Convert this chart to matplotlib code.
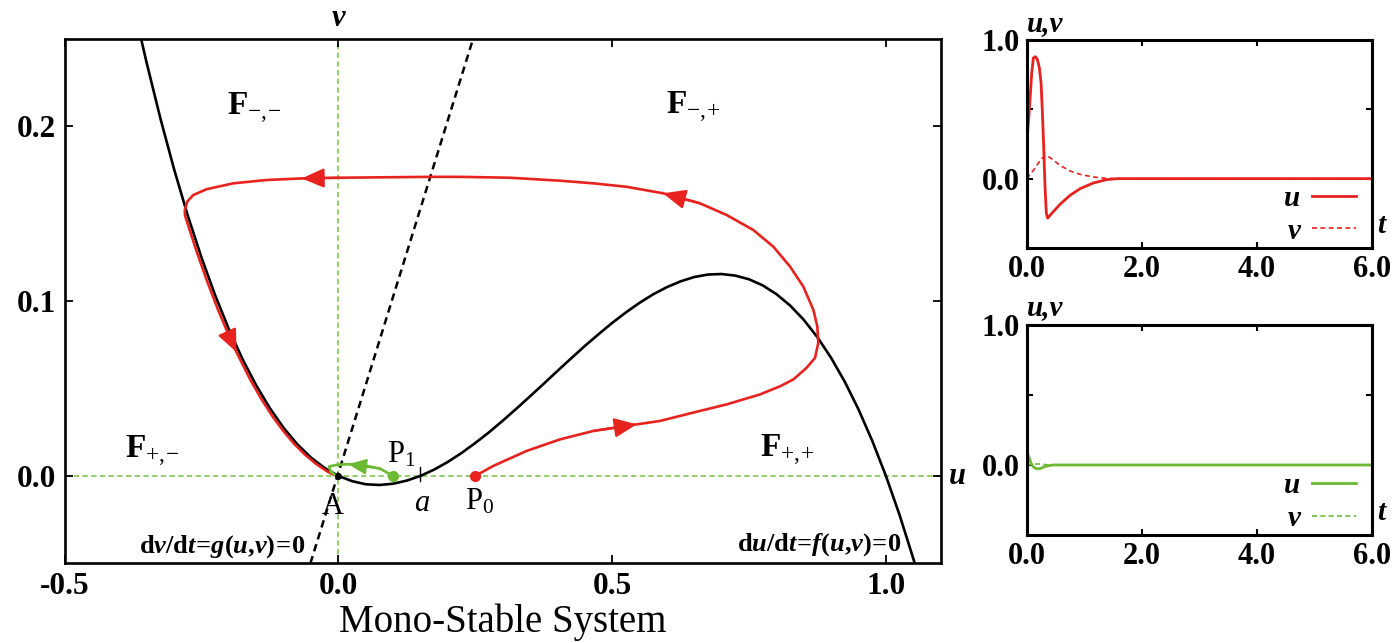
import matplotlib
matplotlib.use("Agg")
import matplotlib.pyplot as plt
from matplotlib.ticker import FormatStrFormatter

# parameter a (threshold) of the cubic
a_param = 0.15

# u-nullcline du/dt = f(u,v) = 0 (black cubic)
null_u = [-0.365, -0.35, -0.325, -0.30, -0.275, -0.25, -0.225, -0.20, -0.175, -0.15,
          -0.125, -0.10, -0.075, -0.05, -0.025, 0.0, 0.025, 0.05, 0.075, 0.10,
          0.125, 0.15, 0.175, 0.20, 0.225, 0.25, 0.275, 0.30, 0.325, 0.35,
          0.375, 0.40, 0.425, 0.45, 0.475, 0.50, 0.525, 0.55, 0.575, 0.60,
          0.625, 0.65, 0.675, 0.70, 0.725, 0.75, 0.775, 0.80, 0.825, 0.85,
          0.875, 0.90, 0.925, 0.95, 0.975, 1.00, 1.025, 1.05, 1.055]
null_v = [0.2566, 0.2363, 0.2046, 0.1755, 0.1490, 0.1250, 0.1034, 0.0840, 0.0668, 0.0518,
          0.0387, 0.0275, 0.0181, 0.0105, 0.0045, 0.0, -0.0030, -0.0048, -0.0052, -0.0045,
          -0.0027, 0.0, 0.0036, 0.0080, 0.0131, 0.0188, 0.0249, 0.0315, 0.0384, 0.0455,
          0.0527, 0.0600, 0.0672, 0.0743, 0.0810, 0.0875, 0.0935, 0.0990, 0.1039, 0.1080,
          0.1113, 0.1138, 0.1152, 0.1155, 0.1146, 0.1125, 0.1090, 0.1040, 0.0975, 0.0893,
          0.0793, 0.0675, 0.0538, 0.0380, 0.0201, 0.0, -0.0224, -0.0473, -0.0525]

# v-nullcline dv/dt = g(u,v) = 0 (dashed straight line)
gnull_u = [-0.051, 0.246]
gnull_v = [-0.05, 0.25]

# red trajectory starting at P0
red_u = [0.25, 0.283, 0.344, 0.405, 0.4655, 0.545, 0.587, 0.648, 0.709, 0.770,
         0.807, 0.831, 0.855, 0.8705, 0.8765, 0.8747, 0.8674, 0.849, 0.8248, 0.7943,
         0.7578, 0.709, 0.660, 0.593, 0.5265, 0.4655, 0.4046, 0.3133, 0.222, 0.167,
         0.0015, -0.067, -0.131, -0.192, -0.2408, -0.265, -0.276, -0.2804, -0.28, -0.26,
         -0.24, -0.22, -0.20, -0.186, -0.16, -0.14, -0.12, -0.10, -0.08, -0.06,
         -0.04, -0.02, -0.008, 0.0]
red_v = [0.0, 0.0057, 0.0143, 0.0209, 0.0257, 0.0295, 0.0314, 0.0362, 0.0409, 0.0466,
         0.0513, 0.0552, 0.0618, 0.0675, 0.0761, 0.0856, 0.0951, 0.1084, 0.1198, 0.1312,
         0.1407, 0.1493, 0.156, 0.1617, 0.1654, 0.1674, 0.1689, 0.1706, 0.1711, 0.1711,
         0.1706, 0.1702, 0.1693, 0.1674, 0.164, 0.1607, 0.1569, 0.1521, 0.149, 0.1296,
         0.1117, 0.0953, 0.0804, 0.0708, 0.0546, 0.0437, 0.0340, 0.0255, 0.0181, 0.0119,
         0.0067, 0.0025, 0.0006, 0.0]
red_arrows = [5, 23, 31, 43]

# green trajectory starting at P1
green_u = [0.10, 0.0758, 0.0453, 0.018, -0.0033, -0.0168, -0.014, -0.006, 0.0]
green_v = [0.0, 0.0042, 0.0061, 0.0067, 0.0063, 0.0054, 0.0025, 0.0006, 0.0]
green_arrows = [3]

# time series, top panel (red, from P0)
t_red_u = [0.0, 0.029, 0.058, 0.087, 0.116, 0.151, 0.186, 0.22, 0.25, 0.272,
           0.296, 0.319, 0.342, 0.365, 0.435, 0.58, 0.754, 0.93, 1.16, 1.39, 1.57, 6.0]
red_u_t = [0.25, 0.40, 0.57, 0.76, 0.87, 0.88, 0.86, 0.80, 0.69, 0.49,
           0.23, -0.06, -0.25, -0.285, -0.25, -0.185, -0.12, -0.072, -0.031, -0.007, 0.0, 0.0]
t_red_v = [0.0, 0.116, 0.232, 0.319, 0.406, 0.58, 0.754, 0.93, 1.16, 1.39, 1.57, 6.0]
red_v_t = [0.0, 0.06, 0.13, 0.169, 0.152, 0.096, 0.055, 0.031, 0.012, 0.002, 0.0, 0.0]

# time series, bottom panel (green, from P1)
t_green_u = [0.0, 0.04, 0.075, 0.116, 0.174, 0.232, 0.30, 0.377, 0.464, 6.0]
green_u_t = [0.10, 0.054, 0.014, -0.014, -0.028, -0.026, -0.014, -0.005, 0.0, 0.0]
t_green_v = [0.0, 0.087, 0.20, 0.32, 0.40, 6.0]
green_v_t = [0.0, 0.006, 0.007, 0.003, 0.0, 0.0]

RED = "#e8221e"
GREEN = "#6cb934"
AXGREEN = "#79c143"
SERIF = "Liberation Serif"

plt.rcParams["font.family"] = [SERIF, "DejaVu Serif"]
plt.rcParams["axes.unicode_minus"] = False
plt.rcParams["mathtext.fontset"] = "custom"
plt.rcParams["mathtext.rm"] = SERIF
plt.rcParams["mathtext.it"] = SERIF + ":italic"
plt.rcParams["mathtext.bf"] = SERIF + ":bold"
if "mathtext.bfit" in plt.rcParams:
    plt.rcParams["mathtext.bfit"] = SERIF + ":italic:bold"

fig = plt.figure(figsize=(13.94, 6.43), dpi=100)
ax = fig.add_axes([0.0463, 0.124, 0.6285, 0.8154])
ax1 = fig.add_axes([0.7365, 0.6143, 0.2475, 0.3235])
ax2 = fig.add_axes([0.7365, 0.168, 0.2475, 0.3266])


def draw_arrow(axis, us, vs, i, color, size, back=1):
    axis.annotate("", xy=(us[i], vs[i]), xytext=(us[i - back], vs[i - back]),
                  arrowprops=dict(arrowstyle="-|>,head_length=0.6,head_width=0.26",
                                  color=color, lw=1.6, shrinkA=0, shrinkB=0,
                                  mutation_scale=size), zorder=6)


# ---- phase plane ----
ax.axhline(0, color=AXGREEN, lw=1.1, dashes=(3.5, 2.2), zorder=1)
ax.axvline(0, color=AXGREEN, lw=1.1, dashes=(3.5, 2.2), zorder=1)
ax.plot(null_u, null_v, color="black", lw=1.9, zorder=3)
ax.plot(gnull_u, gnull_v, color="black", lw=1.8, dashes=(3.0, 2.0), zorder=3)
ax.plot([a_param, a_param], [-0.003, 0.005], color="black", lw=1.0, zorder=3)

ax.plot(red_u, red_v, color=RED, lw=1.9, zorder=4)
for i in red_arrows:
    draw_arrow(ax, red_u, red_v, i, RED, 23)
ax.plot(green_u, green_v, color=GREEN, lw=1.9, zorder=5)
for i in green_arrows:
    draw_arrow(ax, green_u, green_v, i, GREEN, 18, back=2)

ax.plot(red_u[0], red_v[0], "o", color=RED, ms=7, zorder=7)
ax.plot(green_u[0], green_v[0], "o", color=GREEN, ms=7, zorder=7)
ax.plot(0, 0, "o", color="black", ms=4, zorder=7)

ax.set_xlim(-0.5, 1.1)
ax.set_ylim(-0.05, 0.25)
ax.set_xticks([-0.5, 0.0, 0.5, 1.0])
ax.set_yticks([0.0, 0.1, 0.2])
ax.xaxis.set_major_formatter(FormatStrFormatter("%.1f"))
ax.yaxis.set_major_formatter(FormatStrFormatter("%.1f"))
ax.tick_params(direction="in", length=6, width=1.3, top=True, right=True,
               labelsize=22.5, pad=6)
for lab in ax.get_xticklabels() + ax.get_yticklabels():
    lab.set_fontweight("bold")
for sp in ax.spines.values():
    sp.set_linewidth(1.9)
ax.set_xlabel("Mono-Stable System", fontsize=28, labelpad=2)

bi = dict(fontsize=22, fontweight="bold", fontstyle="italic")
ax.annotate("v", xy=(0, 1), xycoords=("data", "axes fraction"), xytext=(0, 9),
            textcoords="offset points", ha="center", va="baseline", **bi)
ax.annotate("u", xy=(1, 0), xycoords=("axes fraction", "data"), xytext=(6, -6),
            textcoords="offset points", ha="left", va="baseline", **bi)

ax.text(-0.2035, 0.2063, r"$\mathbf{F}_{-,\!{-}}$", fontsize=24)
ax.text(0.598, 0.2067, r"$\mathbf{F}_{-,\!{+}}$", fontsize=24)
ax.text(-0.39, 0.0104, r"$\mathbf{F}_{+,\!{-}}$", fontsize=24)
ax.text(0.770, 0.0107, r"$\mathbf{F}_{+,\!{+}}$", fontsize=24)

ax.text(-0.01, -0.0218, "A", fontsize=22, ha="center", va="baseline")
ax.text(0.152, -0.020, r"$a$", fontsize=22, ha="center", va="baseline")
ax.text(0.2305, -0.019, r"$\mathrm{P}_0$", fontsize=22, ha="left", va="baseline")
ax.text(0.088, 0.0076, r"$\mathrm{P}_1$", fontsize=22, ha="left", va="baseline")

eq_g = (r"$\mathbf{d}\mathbfit{v}\mathbf{/d}\mathbfit{t}\!\mathbf{=}\!\mathbfit{g}"
        r"\mathbf{(}\mathbfit{u}\mathbf{,}\mathbfit{v}\mathbf{)}\!\mathbf{=}\!\mathbf{0}$")
eq_f = (r"$\mathbf{d}\mathbfit{u}\mathbf{/d}\mathbfit{t}\!\mathbf{=}\!\mathbfit{f}"
        r"\mathbf{(}\mathbfit{u}\mathbf{,}\mathbfit{v}\mathbf{)}\!\mathbf{=}\!\mathbf{0}$")
ax.text(-0.061, -0.0437, eq_g, fontsize=19, ha="right", va="baseline")
ax.text(1.029, -0.0430, eq_f, fontsize=19, ha="right", va="baseline")

# ---- time series panels ----
panels = [(ax1, t_red_u, red_u_t, t_red_v, red_v_t, RED),
          (ax2, t_green_u, green_u_t, t_green_v, green_v_t, GREEN)]
for axis, tu, uu, tv, vv, col in panels:
    axis.plot(tv, vv, color=col, lw=1.2, dashes=(3, 2), label="v")
    axis.plot(tu, uu, color=col, lw=2.0, label="u")
    axis.set_xlim(0, 6)
    axis.set_ylim(-0.5, 1.0)
    axis.set_xticks([0, 2, 4, 6])
    axis.set_yticks([0.0, 1.0])
    axis.set_yticks([0.5], minor=True)
    axis.xaxis.set_major_formatter(FormatStrFormatter("%.1f"))
    axis.yaxis.set_major_formatter(FormatStrFormatter("%.1f"))
    axis.tick_params(which="both", direction="in", length=4, width=1.5,
                     top=True, right=True, labelsize=22, pad=5)
    for lab in axis.get_xticklabels() + axis.get_yticklabels():
        lab.set_fontweight("bold")
    for sp in axis.spines.values():
        sp.set_linewidth(2.2)
    axis.text(0.0, 1.045, "u,v", transform=axis.transAxes, ha="left",
              va="baseline", fontsize=21, fontweight="bold", fontstyle="italic")
    axis.text(1.015, 0.07, "t", transform=axis.transAxes, ha="left",
              va="baseline", fontsize=21, fontweight="bold", fontstyle="italic")
    h, l = axis.get_legend_handles_labels()
    axis.legend(h[::-1], l[::-1], loc="lower right", bbox_to_anchor=(1.03, -0.11),
                markerfirst=False, frameon=False, handlelength=1.5,
                handletextpad=0.4, labelspacing=0.2,
                prop=dict(family=SERIF, size=21, weight="bold", style="italic"))

fig.savefig("out.png", dpi=100)
